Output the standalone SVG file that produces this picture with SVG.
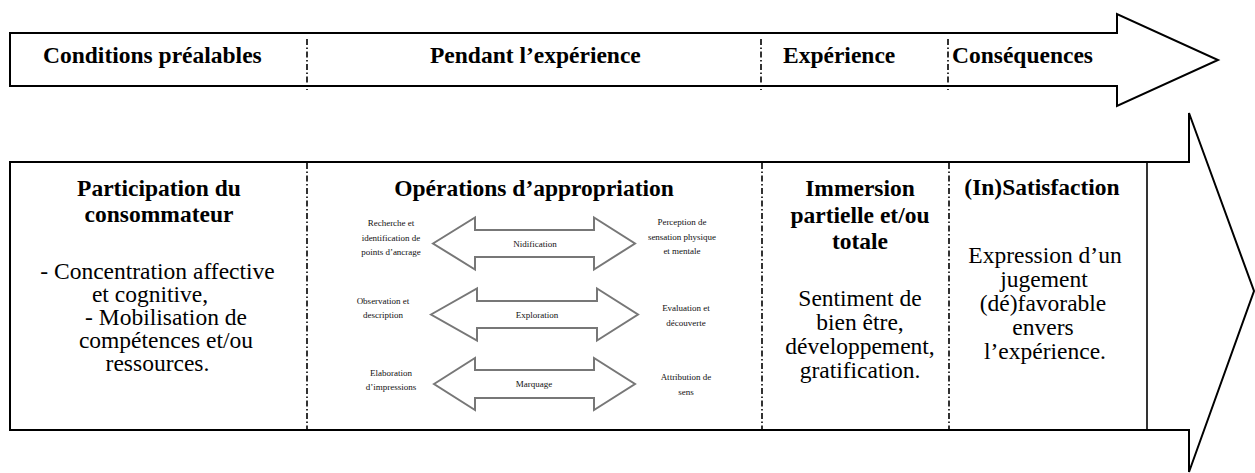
<svg xmlns="http://www.w3.org/2000/svg" width="1255" height="473" viewBox="0 0 1255 473">
<style>
.frame{fill:#fff;stroke:#000;stroke-width:2;stroke-linejoin:miter}
.div{stroke:#000;stroke-width:1.6;stroke-dasharray:6 2.5 1.5 2.5;fill:none}
.solid{stroke:#000;stroke-width:1.6;fill:none}
.ga{fill:#fff;stroke:#777;stroke-width:2;stroke-linejoin:miter}
.h{font-family:'Times New Roman','Liberation Serif','DejaVu Serif',serif;font-weight:bold;font-size:23.5px;fill:#000}
.b{font-family:'Times New Roman','Liberation Serif','DejaVu Serif',serif;font-size:23.5px;fill:#000;text-anchor:middle}
.hc{text-anchor:middle}
.s{font-family:'Times New Roman','Liberation Serif','DejaVu Serif',serif;font-size:9px;fill:#111;text-anchor:middle}
</style>
<rect width="1255" height="473" fill="#fff"/>
<g id="timeline-top">
<polygon class="frame" points="10,33 1117,33 1117,14 1218,60 1117,106 1117,86 10,86"/>
<line class="div" x1="307" y1="39" x2="307" y2="90"/>
<line class="div" x1="761" y1="39" x2="761" y2="90"/>
<line class="div" x1="948" y1="39" x2="948" y2="90"/>
<text class="h" x="43" y="63">Conditions préalables</text>
<text class="h" x="430" y="63">Pendant l’expérience</text>
<text class="h" x="783" y="63">Expérience</text>
<text class="h" x="952" y="63">Conséquences</text>
</g>
<g id="timeline-bottom">
<polygon class="frame" points="10,162 1189,162 1189,113 1254,291 1189,472 1189,430 10,430"/>
<line class="solid" x1="1147" y1="162" x2="1147" y2="430"/>
<line class="div" x1="307" y1="163" x2="307" y2="430"/>
<line class="div" x1="762" y1="163" x2="762" y2="430"/>
<line class="div" x1="949" y1="163" x2="949" y2="430"/>
</g>
<g id="participation">
<text class="h hc" x="159" y="196">Participation du</text>
<text class="h hc" x="159" y="222">consommateur</text>
<text class="b" x="157.5" y="279">-  Concentration affective</text>
<text class="b" x="150" y="302">et cognitive,</text>
<text class="b" x="166" y="325">-  Mobilisation de</text>
<text class="b" x="166" y="348">compétences et/ou</text>
<text class="b" x="157.5" y="371">ressources.</text>
</g>
<g id="operations">
<text class="h hc" x="534" y="196">Opérations d’appropriation</text>
</g>
<g id="connectors">
<polygon class="ga" points="433,243.5 475,217.5 475,230 594,230 594,217.5 635,243.5 594,269.5 594,257 475,257 475,269.5"/>
<polygon class="ga" points="431,314.5 477,288.5 477,301 597,301 597,288.5 638,314.5 597,340.5 597,328 477,328 477,340.5"/>
<polygon class="ga" points="434,384 475,358 475,370 594,370 594,358 635,384 594,410 594,398 475,398 475,410"/>
</g>
<g id="nidification">
<text class="s" x="535" y="246.5">Nidification</text>
<text class="s" x="391" y="226">Recherche et</text>
<text class="s" x="391" y="240.5">identification de</text>
<text class="s" x="391" y="255">points d’ancrage</text>
<text class="s" x="682" y="225">Perception de</text>
<text class="s" x="682" y="239.5">sensation physique</text>
<text class="s" x="682" y="254">et mentale</text>
</g>
<g id="exploration">
<text class="s" x="537" y="317.5">Exploration</text>
<text class="s" x="383" y="304">Observation et</text>
<text class="s" x="383" y="318">description</text>
<text class="s" x="686" y="311">Evaluation et</text>
<text class="s" x="686" y="325.5">découverte</text>
</g>
<g id="marquage">
<text class="s" x="534" y="387">Marquage</text>
<text class="s" x="391" y="376">Elaboration</text>
<text class="s" x="391" y="390">d’impressions</text>
<text class="s" x="686" y="380">Attribution de</text>
<text class="s" x="686" y="395">sens</text>
</g>
<g id="immersion">
<text class="h hc" x="860" y="196">Immersion</text>
<text class="h hc" x="860" y="222.5">partielle et/ou</text>
<text class="h hc" x="860" y="249">totale</text>
<text class="b" x="860" y="306">Sentiment de</text>
<text class="b" x="860" y="330">bien être,</text>
<text class="b" x="860" y="354">développement,</text>
<text class="b" x="860" y="378">gratification.</text>
</g>
<g id="satisfaction">
<text class="h hc" x="1042" y="195">(In)Satisfaction</text>
<text class="b" x="1045" y="263">Expression d’un</text>
<text class="b" x="1044" y="287">jugement</text>
<text class="b" x="1043" y="311">(dé)favorable</text>
<text class="b" x="1043" y="335">envers</text>
<text class="b" x="1045" y="359">l’expérience.</text>
</g>
</svg>
